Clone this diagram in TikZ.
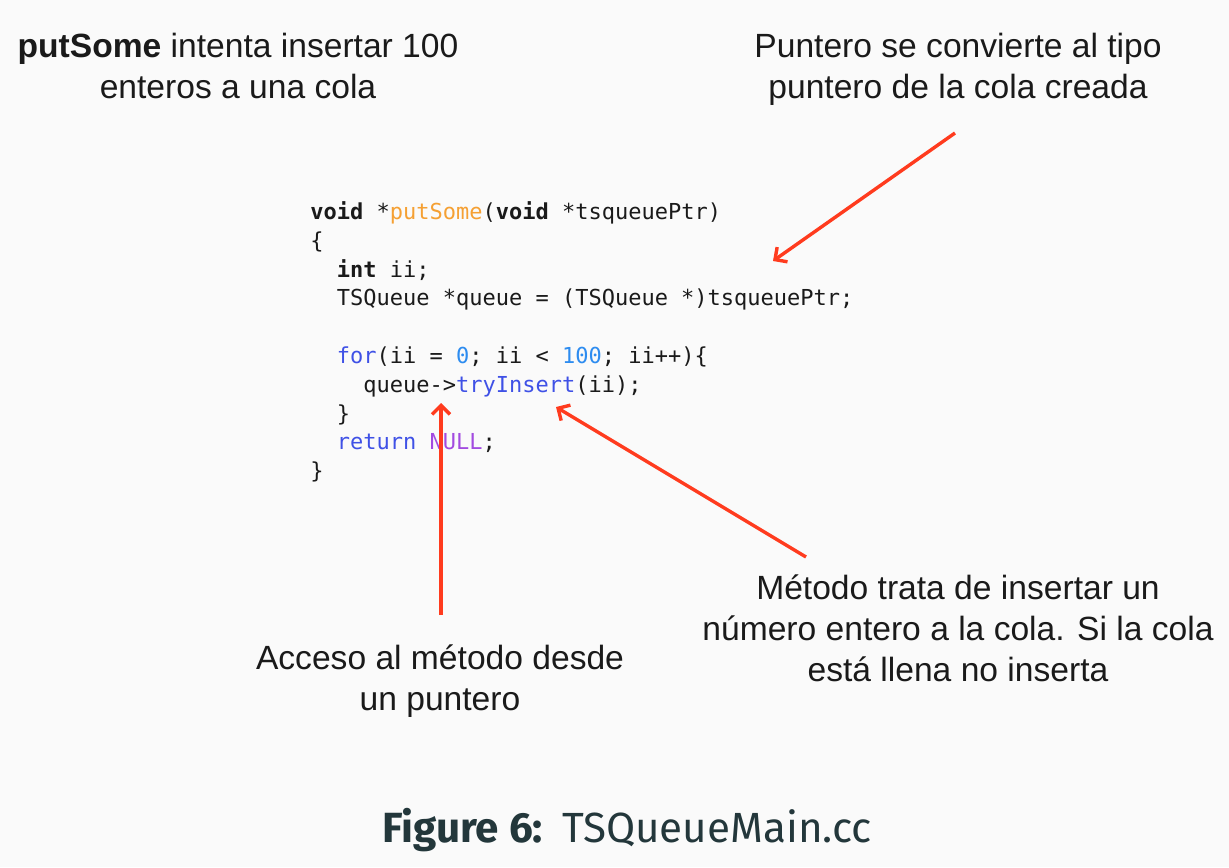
\documentclass[tikz,border=0pt]{standalone}
\usepackage{fontspec}
\usepackage{xcolor}
\usetikzlibrary{arrows.meta}
\setmonofont{DejaVu Sans Mono}
\newfontfamily\annfont{Liberation Sans}
\newfontfamily\capfont{Fira Sans}
\definecolor{slidebg}{HTML}{FAFAFA}
\definecolor{arrowred}{HTML}{FF3B1E}
\definecolor{kwblue}{HTML}{3F51E6}
\definecolor{numblue}{HTML}{2D8CF0}
\definecolor{fnorange}{HTML}{F5A033}
\definecolor{nullpurple}{HTML}{A24BE0}
\definecolor{captext}{HTML}{23373B}
\definecolor{codetext}{HTML}{1A1A1A}

\tikzset{
  note/.style={align=center, inner sep=0pt, anchor=north, text=codetext,
    font=\annfont\fontsize{16.8}{20.5}\selectfont},
  code/.style={align=left, inner sep=0pt, anchor=north west, text=codetext,
    font=\ttfamily\fontsize{11}{14.4}\selectfont},
  pointer/.style={draw=arrowred, line width=1.7pt,
    -{Straight Barb[length=4.5pt,width=9pt]}}
}

\begin{document}
\begin{tikzpicture}[x=0.5pt, y=-0.5pt]
      \fill[slidebg] (0,0) rectangle (1229,867);
      \useasboundingbox (0,0) rectangle (1229,867);

      % code listing
      \node[code] (listing) at (310,199) {\strut\textbf{void} *\textcolor{fnorange}{putSome}(\textbf{void} *tsqueuePtr)\\
\{\\
\phantom{xx}\textbf{int} ii;\\
\phantom{xx}TSQueue *queue = (TSQueue *)tsqueuePtr;\\
\mbox{}\\
\phantom{xx}\textcolor{kwblue}{for}(ii = \textcolor{numblue}{0}; ii < \textcolor{numblue}{100}; ii++)\{\\
\phantom{xxxx}queue->\textcolor{kwblue}{tryInsert}(ii);\\
\phantom{xx}\}\\
\phantom{xx}\textcolor{kwblue}{return} \textcolor{nullpurple}{NULL};\\
\}};

      % notes
      \node[note] (putsome) at (238,28) {\strut\textbf{putSome} intenta insertar 100\\ enteros a una cola};
      \node[note] (cast) at (958,28) {\strut Puntero se convierte al tipo\\ puntero de la cola creada};
      \node[note] (access) at (440,640) {\strut Acceso al método desde\\ un puntero};
      \node[note] (method) at (958,570) {\strut Método trata de insertar un\\ número entero a la cola. Si la cola\\ está llena no inserta};

      \node[anchor=base, inner sep=0pt, text=captext, font=\capfont\fontsize{21.1}{25}\selectfont] (caption) at (627,842) {\textbf{Figure 6:}\hspace{0.45em}TSQueueMain.cc};

      % arrows
      \coordinate (castTail) at (955,133);
      \coordinate (castTip) at (773,261);
      \coordinate (accessTail) at (441,615);
      \coordinate (accessTip) at (441,403);
      \coordinate (methodTail) at (806,557);
      \coordinate (methodTip) at (556,407);

      \draw[pointer] (castTail) -- (castTip);
      \draw[pointer] (accessTail) -- (accessTip);
      \draw[pointer] (methodTail) -- (methodTip);
\end{tikzpicture}
\end{document}
